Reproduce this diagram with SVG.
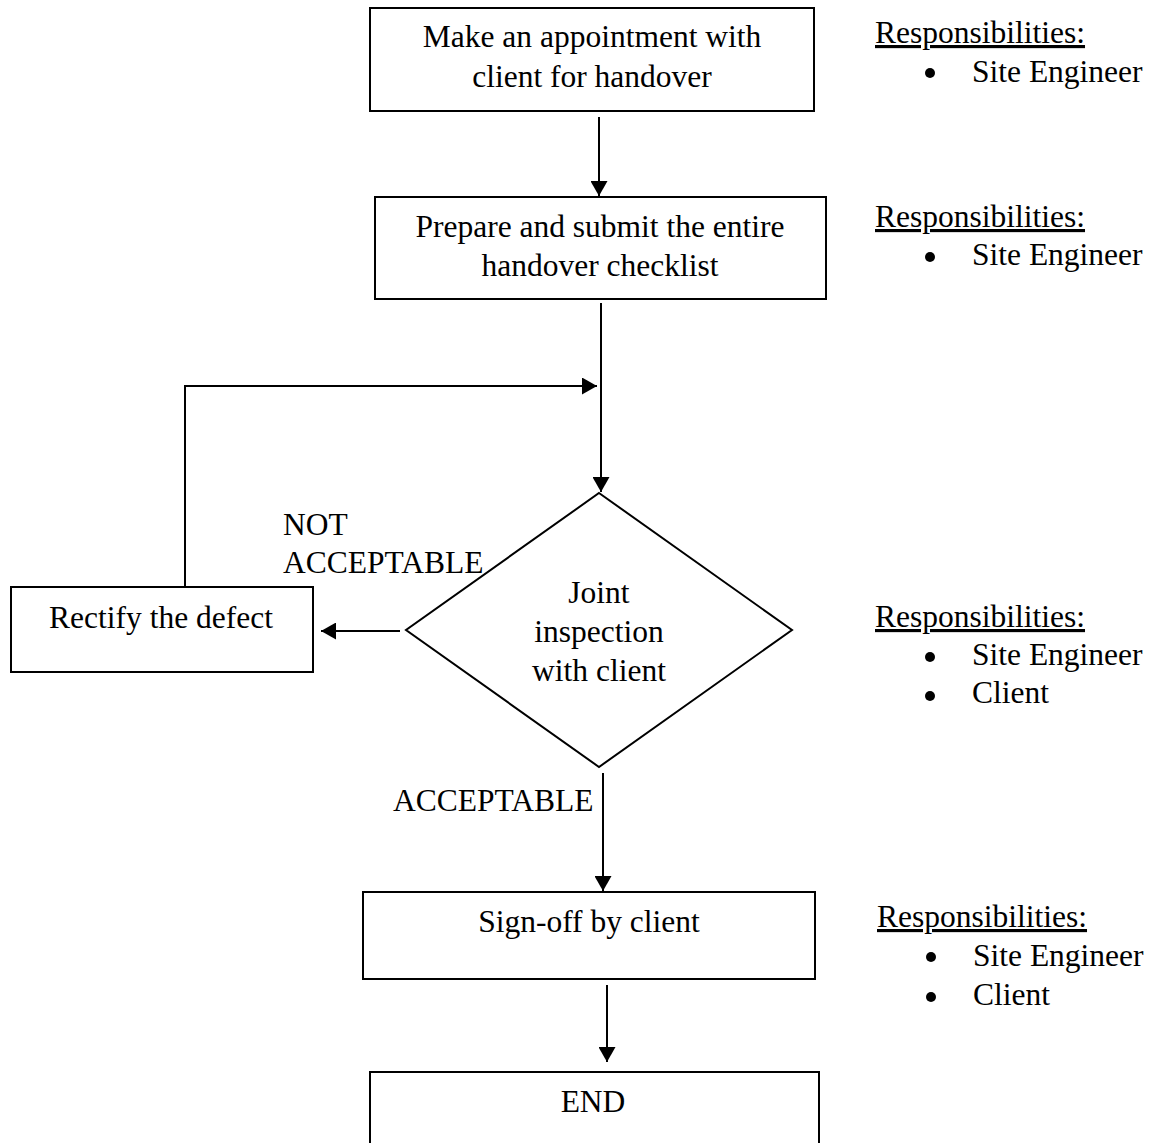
<svg xmlns="http://www.w3.org/2000/svg" width="1158" height="1143" viewBox="0 0 1158 1143">
  <style>
    text { font-family: "Liberation Serif", "Times New Roman", serif; font-size: 31.5px; fill: #000; }
    .c { text-anchor: middle; }
    .box { fill: #fff; stroke: #000; stroke-width: 2; }
    .wire { fill: none; stroke: #000; stroke-width: 2; }
    .head { text-decoration: underline; }
  </style>
  <defs>
    <marker id="arrow" markerUnits="userSpaceOnUse" markerWidth="16" markerHeight="17" refX="15" refY="8.5" orient="auto">
      <path d="M0,0 L15,8.5 L0,17 z" fill="#000"/>
    </marker>
  </defs>

  <rect width="1158" height="1143" fill="#fff"/>

  <!-- connectors -->
  <g id="connectors">
    <line class="wire" x1="599" y1="117" x2="599" y2="196" marker-end="url(#arrow)"/>
    <line class="wire" x1="601" y1="303" x2="601" y2="492" marker-end="url(#arrow)"/>
    <polyline class="wire" points="185,587 185,386 597,386" stroke-width="1.6" marker-end="url(#arrow)"/>
    <line class="wire" x1="400" y1="631" x2="321" y2="631" marker-end="url(#arrow)"/>
    <line class="wire" x1="603" y1="773" x2="603" y2="891" marker-end="url(#arrow)"/>
    <line class="wire" x1="607" y1="985" x2="607" y2="1062" marker-end="url(#arrow)"/>
    <text id="lbl-not-acceptable" x="283" y="535">NOT<tspan x="283" y="573">ACCEPTABLE</tspan></text>
    <text id="lbl-acceptable" x="393" y="811">ACCEPTABLE</text>
  </g>

  <!-- process steps -->
  <g id="appointment">
    <rect class="box" x="370" y="8" width="444" height="103"/>
    <text class="c" x="592" y="47">Make an appointment with</text>
    <text class="c" x="592" y="87">client for handover</text>
  </g>

  <g id="checklist">
    <rect class="box" x="375" y="197" width="451" height="102"/>
    <text class="c" x="600" y="237">Prepare and submit the entire</text>
    <text class="c" x="600" y="276">handover checklist</text>
  </g>

  <g id="inspection">
    <polygon class="box" points="599,493 792,630 599,767 406,630"/>
    <text class="c" x="599" y="603">Joint</text>
    <text class="c" x="599" y="642">inspection</text>
    <text class="c" x="599" y="681">with client</text>
  </g>

  <g id="rectify">
    <rect class="box" x="11" y="587" width="302" height="85"/>
    <text class="c" x="161" y="628">Rectify the defect</text>
  </g>

  <g id="signoff">
    <rect class="box" x="363" y="892" width="452" height="87"/>
    <text class="c" x="589" y="932">Sign-off by client</text>
  </g>

  <g id="end">
    <rect class="box" x="370" y="1072" width="449" height="90"/>
    <text class="c" x="593" y="1112">END</text>
  </g>

  <!-- responsibility notes -->
  <g id="resp-appointment">
    <text class="head" x="875" y="43">Responsibilities:</text>
    <circle cx="930" cy="73" r="5"/>
    <text x="972" y="82">Site Engineer</text>
  </g>

  <g id="resp-checklist">
    <text class="head" x="875" y="227">Responsibilities:</text>
    <circle cx="930" cy="257" r="5"/>
    <text x="972" y="265">Site Engineer</text>
  </g>

  <g id="resp-inspection">
    <text class="head" x="875" y="627">Responsibilities:</text>
    <circle cx="930" cy="657" r="5"/>
    <text x="972" y="665">Site Engineer</text>
    <circle cx="930" cy="696" r="5"/>
    <text x="972" y="703">Client</text>
  </g>

  <g id="resp-signoff">
    <text class="head" x="877" y="927">Responsibilities:</text>
    <circle cx="931" cy="957" r="5"/>
    <text x="973" y="966">Site Engineer</text>
    <circle cx="931" cy="997" r="5"/>
    <text x="973" y="1005">Client</text>
  </g>
</svg>
